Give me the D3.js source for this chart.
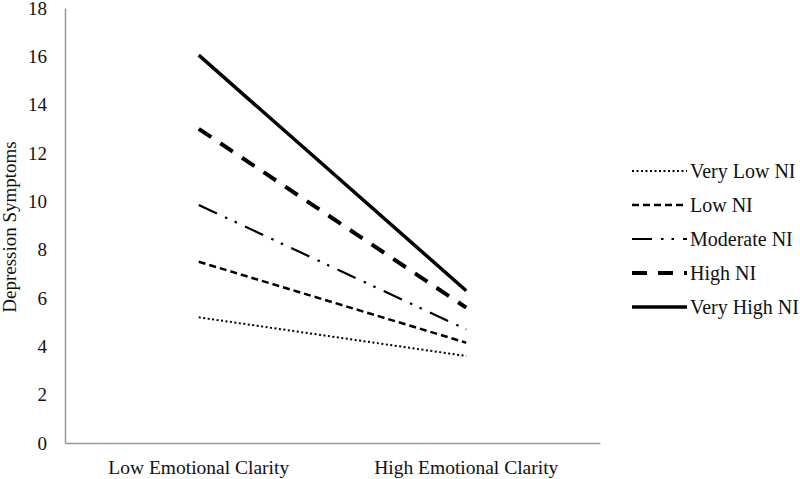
<!DOCTYPE html>
<html><head><meta charset="utf-8">
<script src="https://cdn.jsdelivr.net/npm/d3@7/dist/d3.min.js"></script>
<style>body{margin:0;background:#fff}svg{display:block}text{font-family:"Liberation Serif","Times New Roman",serif;fill:#111}</style>
</head><body><svg id="c" width="800" height="479"></svg>
<script>
const categories = ["Low Emotional Clarity", "High Emotional Clarity"];
const seriesNames = ["Very Low NI", "Low NI", "Moderate NI", "High NI", "Very High NI"];
const veryLowNI = [5.2, 3.6];
const lowNI = [7.5, 4.15];
const moderateNI = [9.85, 4.7];
const highNI = [13.0, 5.6];
const veryHighNI = [16.05, 6.3];
const yTicks = [0, 2, 4, 6, 8, 10, 12, 14, 16, 18];

const seriesValues = [veryLowNI, lowNI, moderateNI, highNI, veryHighNI];
const styles = [
  {w: 2, dash: "2,2.5"},
  {w: 2.5, dash: "7,4"},
  {w: 2.2, dash: "20,9,2.5,8,2.5,9"},
  {w: 4, dash: "15,11"},
  {w: 3.5, dash: null}
];

const svg = d3.select("#c");
const mL = 65, mR = 600, mT = 8, mB = 443;
const x = d3.scaleBand().domain(categories).range([mL, mR]);
const y = d3.scaleLinear().domain([0, 18]).range([mB, mT]);

const yAxis = svg.append("g").attr("transform", `translate(${mL},0)`)
  .call(d3.axisLeft(y).tickValues(yTicks).tickSize(0).tickPadding(18));
yAxis.select(".domain").attr("stroke", "#999").attr("stroke-width", 1.5);
yAxis.selectAll("text").style("font-size", "19px").style("font-family", '"Liberation Serif",serif').attr("fill", "#111");

const xAxis = svg.append("g").attr("transform", `translate(0,${mB})`)
  .call(d3.axisBottom(x).tickSize(0).tickPadding(17));
xAxis.select(".domain").attr("stroke", "#999").attr("stroke-width", 1.5);
xAxis.selectAll("text").style("font-size", "19.5px").style("font-family", '"Liberation Serif",serif').attr("fill", "#111");

svg.append("text").attr("transform", `translate(16,227) rotate(-90)`)
  .attr("text-anchor", "middle").style("font-size", "19px").text("Depression Symptoms");

const line = d3.line().x((d, i) => x(categories[i]) + x.bandwidth() / 2).y(d => y(d));
seriesValues.forEach((vals, i) => {
  const s = styles[i];
  svg.append("path").attr("d", line(vals)).attr("fill", "none").attr("stroke", "#000")
    .attr("stroke-width", s.w).attr("stroke-dasharray", s.dash);
});

const legY = [171, 205, 239, 273, 307];
seriesNames.forEach((name, i) => {
  const s = styles[i];
  svg.append("line").attr("x1", 632).attr("x2", 687).attr("y1", legY[i]).attr("y2", legY[i])
    .attr("stroke", "#000").attr("stroke-width", s.w).attr("stroke-dasharray", s.dash);
  svg.append("text").attr("x", 690).attr("y", legY[i]).attr("dy", "0.35em")
    .style("font-size", "20px").text(name);
});
</script></body></html>
